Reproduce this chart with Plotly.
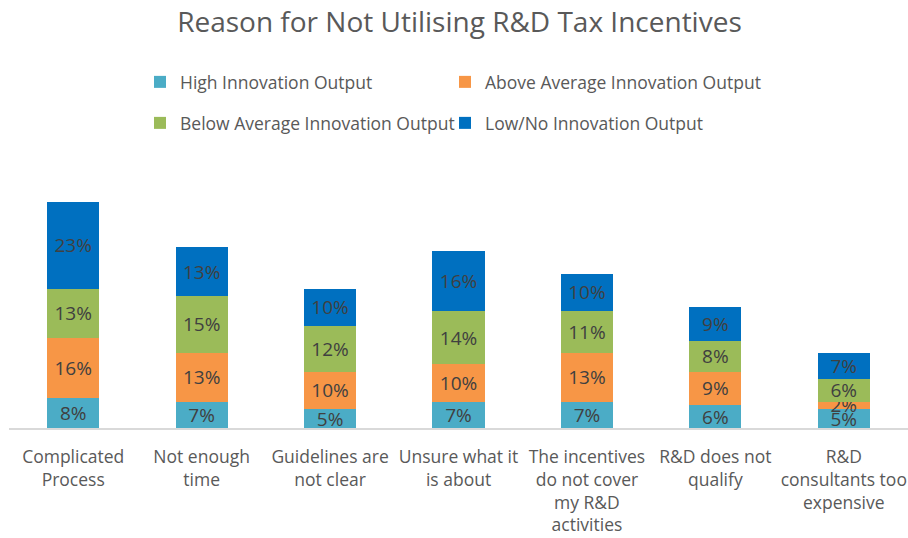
import plotly.graph_objects as go

# Survey data: share of respondents citing each reason, split by innovation group
categories = [
    "Complicated<br>Process",
    "Not enough<br>time",
    "Guidelines are<br>not clear",
    "Unsure what it<br>is about",
    "The incentives<br>do not cover<br>my R&D<br>activities",
    "R&D does not<br>qualify",
    "R&D<br>consultants too<br>expensive",
]
series_names = [
    "High Innovation Output",
    "Above Average Innovation Output",
    "Below Average Innovation Output",
    "Low/No Innovation Output",
]
high_output = [8, 7, 5, 7, 7, 6, 5]
above_avg_output = [16, 13, 10, 10, 13, 9, 2]
below_avg_output = [13, 15, 12, 14, 11, 8, 6]
low_no_output = [23, 13, 10, 16, 10, 9, 7]

series_values = [high_output, above_avg_output, below_avg_output, low_no_output]
colors = ["#4BACC6", "#F79646", "#9BBB59", "#0070C0"]

# One legend box per series, laid out as a 2 x 2 grid (left px, centre-y px)
legend_ids = ["legend", "legend2", "legend3", "legend4"]
legend_spots = [(140, 82), (445, 82), (140, 123), (445, 123)]

FONT = "Open Sans"
TEXT_GREY = "#595959"
W, H = 908, 538

fig = go.Figure()
for name, vals, col, lg in zip(series_names, series_values, colors, legend_ids):
    fig.add_trace(go.Bar(
        name=name,
        x=categories,
        y=vals,
        marker=dict(color=col, line=dict(width=0)),
        text=[f"{v}%" for v in vals],
        textposition="inside",
        insidetextanchor="middle",
        textangle=0,
        constraintext="none",
        textfont=dict(family=FONT, size=19, color="#404040"),
        legend=lg,
        hoverinfo="skip",
    ))

legend_layouts = {}
for lg, (lx, ly) in zip(legend_ids, legend_spots):
    legend_layouts[lg] = dict(
        orientation="h",
        xref="container", yref="container",
        xanchor="left", yanchor="middle",
        x=lx / W, y=1 - ly / H,
        font=dict(family=FONT, size=17.5, color=TEXT_GREY),
        bgcolor="rgba(0,0,0,0)",
        itemclick=False, itemdoubleclick=False,
    )

fig.update_layout(
    width=W, height=H,
    margin=dict(l=9, r=0, t=170, b=110),
    paper_bgcolor="white", plot_bgcolor="white",
    barmode="stack",
    bargap=0.595,
    showlegend=True,
    title=dict(
        text="Reason for Not Utilising R&D Tax Incentives",
        font=dict(family=FONT, size=28, color=TEXT_GREY),
        x=0.506, xanchor="center",
        y=1 - 22 / H, yanchor="middle", yref="container",
    ),
    xaxis=dict(
        showline=True, linecolor="#D9D9D9", linewidth=2,
        showgrid=False, zeroline=False, ticks="",
        tickfont=dict(family=FONT, size=17.5, color=TEXT_GREY),
        ticklabelstandoff=12,
        fixedrange=True,
    ),
    yaxis=dict(
        range=[0, 68.5], visible=False, showgrid=False, zeroline=False,
        fixedrange=True,
    ),
    **legend_layouts,
)

fig.write_html("out.html")
